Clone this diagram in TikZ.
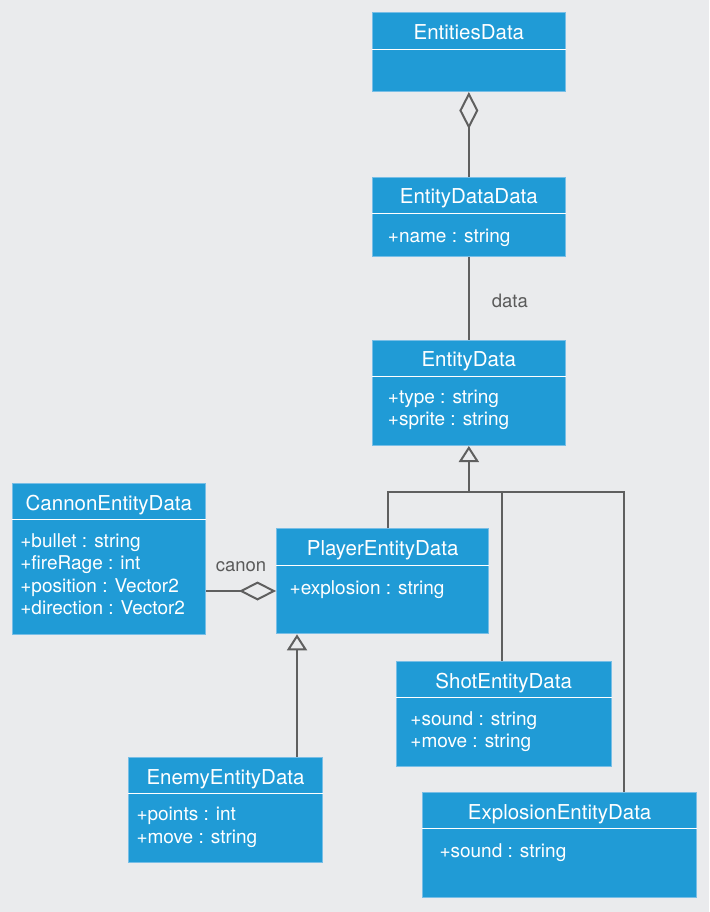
\documentclass[tikz,border=0pt]{standalone}
\usepackage{fontspec}
\setmainfont{TeX Gyre Heros}
\usetikzlibrary{arrows.meta, positioning}

\definecolor{canvas}{HTML}{EAEBED}
\definecolor{classblue}{HTML}{209BD6}
\definecolor{classedge}{HTML}{78BEE6}
\definecolor{linegray}{HTML}{5F5F5F}
\definecolor{rolegray}{HTML}{5A5A5A}

\begin{document}
\begin{tikzpicture}[
    x=1pt, y=-1pt,
    classbox/.style={rectangle, draw=classedge, line width=1pt, fill=classblue, anchor=north west, inner sep=0pt},
    classtitle/.style={anchor=base, text=white, inner sep=0pt, font=\fontsize{20.5}{24}\selectfont},
    attrs/.style={anchor=north west, align=left, text=white, inner sep=0pt, font=\fontsize{19}{22.5}\selectfont, execute at begin node=\strut},
    divider/.style={white, line width=1.5pt},
    wire/.style={draw=linegray, line width=2pt},
    aggregation/.style={wire, -{Diamond[open, length=37pt, width=19pt]}},
    inherit/.style={wire, -{Triangle[open, length=16pt, width=20pt]}},
    rolelabel/.style={text=rolegray, inner sep=0pt, font=\fontsize{18.5}{22}\selectfont}
]

    % Canvas
    \fill[canvas] (0,0) rectangle (709,912);

    % Top of the hierarchy
    \node[classbox, minimum width=193.3pt, minimum height=78.7pt] (entities) at (371.7,12.3) {};
    \node[classtitle] (entities_title) at ([yshift=-27.3pt]entities.north) {EntitiesData};
    \draw[divider] ([yshift=-37pt]entities.north west) -- ([yshift=-37pt]entities.north east);

    \node[classbox, minimum width=193.3pt, minimum height=79.3pt] (entitydatadata) at (371.7,176.7) {};
    \node[classtitle] (entitydatadata_title) at ([yshift=-27.3pt]entitydatadata.north) {EntityDataData};
    \draw[divider] ([yshift=-37pt]entitydatadata.north west) -- ([yshift=-37pt]entitydatadata.north east);
    \node[attrs] (entitydatadata_attrs) at ([xshift=16pt, yshift=-50.3pt]entitydatadata.north west) {+name : string};

    \node[classbox, minimum width=193.3pt, minimum height=105.5pt] (entitydata) at (371.7,339.5) {};
    \node[classtitle] (entitydata_title) at ([yshift=-27.3pt]entitydata.north) {EntityData};
    \draw[divider] ([yshift=-37pt]entitydata.north west) -- ([yshift=-37pt]entitydata.north east);
    \node[attrs] (entitydata_attrs) at ([xshift=16pt, yshift=-50.3pt]entitydata.north west) {+type : string\\+sprite : string};

    % Player and its parts
    \node[classbox, minimum width=193.3pt, minimum height=151.6pt] (cannon) at (11.7,482.7) {};
    \node[classtitle] (cannon_title) at ([yshift=-27.3pt]cannon.north) {CannonEntityData};
    \draw[divider] ([yshift=-37pt]cannon.north west) -- ([yshift=-37pt]cannon.north east);
    \node[attrs] (cannon_attrs) at ([xshift=8.5pt, yshift=-50.3pt]cannon.north west) {+bullet : string\\+fireRage : int\\+position : Vector2\\+direction : Vector2};

    \node[classbox, minimum width=212.3pt, minimum height=105pt] (player) at (276,528.3) {};
    \node[classtitle] (player_title) at ([yshift=-27.3pt]player.north) {PlayerEntityData};
    \draw[divider] ([yshift=-37pt]player.north west) -- ([yshift=-37pt]player.north east);
    \node[attrs] (player_attrs) at ([xshift=13.5pt, yshift=-50.3pt]player.north west) {+explosion : string};

    \node[classbox, minimum width=193.4pt, minimum height=105.6pt] (enemy) at (128.3,756.7) {};
    \node[classtitle] (enemy_title) at ([yshift=-27.3pt]enemy.north) {EnemyEntityData};
    \draw[divider] ([yshift=-37pt]enemy.north west) -- ([yshift=-37pt]enemy.north east);
    \node[attrs] (enemy_attrs) at ([xshift=8pt, yshift=-50.3pt]enemy.north west) {+points : int\\+move : string};

    % Other subclasses
    \node[classbox, minimum width=215pt, minimum height=105.3pt] (shot) at (395.7,660.7) {};
    \node[classtitle] (shot_title) at ([yshift=-27.3pt]shot.north) {ShotEntityData};
    \draw[divider] ([yshift=-37pt]shot.north west) -- ([yshift=-37pt]shot.north east);
    \node[attrs] (shot_attrs) at ([xshift=14.5pt, yshift=-50.3pt]shot.north west) {+sound : string\\+move : string};

    \node[classbox, minimum width=273.7pt, minimum height=105.3pt] (explosion) at (422.3,791.7) {};
    \node[classtitle] (explosion_title) at ([yshift=-27.3pt]explosion.north) {ExplosionEntityData};
    \draw[divider] ([yshift=-37pt]explosion.north west) -- ([yshift=-37pt]explosion.north east);
    \node[attrs] (explosion_attrs) at ([xshift=17pt, yshift=-50.3pt]explosion.north west) {+sound : string};

    % Aggregations
    \draw[aggregation] (entitydatadata.north) -- (entities.south);
    \draw[wire] (entitydatadata.south) -- node[rolelabel, xshift=41pt, yshift=-2.5pt] (data_label) {data} (entitydata.north);
    \draw[aggregation] (cannon.east |- 0,591) -- node[rolelabel, yshift=24pt] (canon_label) {canon} (player.west |- 0,591);

    % Generalizations
    \coordinate (bus) at (entitydata.south |- 0,491.5);
    \coordinate (playerdrop) at (388,491.5);
    \coordinate (shotdrop) at (502,491.5);
    \coordinate (explosiondrop) at (624,491.5);
    \coordinate (enemydrop) at (297,700);

    \draw[inherit] (bus) -- (entitydata.south);
    \draw[wire] (playerdrop |- player.north) -- (playerdrop) -- (explosiondrop) -- (explosiondrop |- explosion.north);
    \draw[wire] (shotdrop) -- (shotdrop |- shot.north);
    \draw[inherit] (enemy.north -| enemydrop) -- (player.south -| enemydrop);

\end{tikzpicture}
\end{document}
